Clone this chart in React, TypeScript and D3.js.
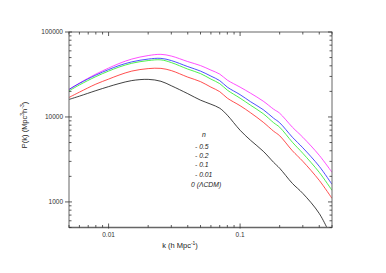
import React, { useEffect, useRef } from 'react';
import * as d3 from 'd3';

// wavenumbers k (h/Mpc) shared by every curve
const kValues = [
  0.005, 0.006, 0.008, 0.01, 0.012, 0.015, 0.02, 0.025, 0.03, 0.04, 0.05, 0.06,
  0.07, 0.08, 0.1, 0.12, 0.15, 0.18, 0.2, 0.25, 0.3, 0.4, 0.5,
];

// P(k) for each model
const pMinus05 = [
  21080, 25010, 31950, 37610, 42500, 48010, 52810, 54570, 52100, 44860, 40240, 35610,
  31950, 27140, 22440, 19060, 15340, 12340, 11070, 7570, 5770, 3538, 2229,
];
const pMinus02 = [
  21080, 24810, 31090, 36100, 40240, 44500, 48010, 48940, 46100, 39160, 34660, 30260,
  26770, 22440, 18300, 15130, 12180, 9660, 8550, 5770, 4337, 2624, 1609,
];
const pMinus01 = [
  20290, 23820, 29850, 34660, 38640, 42840, 46100, 46990, 43660, 36590, 32380, 27890,
  24680, 20680, 16640, 13760, 10920, 8550, 7570, 5036, 3735, 2229, 1367,
];
const pMinus001 = [
  16960, 19590, 24340, 27890, 31090, 34660, 37090, 37300, 35130, 29440, 26050, 22440,
  19860, 16640, 13570, 11220, 8670, 6790, 6010, 3998, 3005, 1794, 1100,
];
const pLCDM = [
  16070, 17580, 20400, 22750, 24700, 26800, 27700, 26300, 23300, 18800, 15770, 14130,
  12680, 10490, 6980, 5320, 3950, 2920, 2490, 1650, 1260, 731, 371,
];

const seriesColors = ['#ff22ff', '#2222ff', '#22ee22', '#ff2222', '#111111'];
const legendLabels = ['n', '- 0.5', '- 0.2', '- 0.1', '- 0.01', '0 (ΛCDM)'];

const xMajor = [0.01, 0.1];
const xMinor = [0.005, 0.006, 0.007, 0.008, 0.009, 0.02, 0.03, 0.04, 0.05, 0.06, 0.07, 0.08, 0.09, 0.2, 0.3, 0.4, 0.5];
const yMajor = [1000, 10000, 100000];
const yMinor = [
  500, 600, 700, 800, 900, 2000, 3000, 4000, 5000, 6000, 7000, 8000, 9000,
  20000, 30000, 40000, 50000, 60000, 70000, 80000, 90000,
];

const App: React.FC = () => {
  const ref = useRef(null);

  useEffect(() => {
    if (!ref.current) return;
    const svg = d3.select(ref.current);
    svg.selectAll('*').remove();

    const left = 69;
    const right = 332;
    const top = 32;
    const bottom = 227.5;

    const x = d3.scaleLog().domain([0.005, 0.5]).range([left, right]);
    const y = d3.scaleLog().domain([500, 100000]).range([bottom, top]);

    svg.append('rect').attr('width', 386).attr('height', 273).attr('fill', '#fff');

    svg
      .append('defs')
      .append('clipPath')
      .attr('id', 'plot-clip')
      .append('rect')
      .attr('x', left)
      .attr('y', top)
      .attr('width', right - left)
      .attr('height', bottom - top);

    const line = d3
      .line<number>()
      .x((_, i) => x(kValues[i]))
      .y((d) => y(d))
      .curve(d3.curveCatmullRom.alpha(0.5));

    const allSeries = [pMinus05, pMinus02, pMinus01, pMinus001, pLCDM];
    svg
      .append('g')
      .attr('clip-path', 'url(#plot-clip)')
      .selectAll('path')
      .data(allSeries)
      .enter()
      .append('path')
      .attr('d', (d) => line(d))
      .attr('fill', 'none')
      .attr('stroke', (_, i) => seriesColors[i])
      .attr('stroke-width', 0.8);

    // frame
    const axisColor = '#666';
    svg
      .append('rect')
      .attr('x', left)
      .attr('y', top)
      .attr('width', right - left)
      .attr('height', bottom - top)
      .attr('fill', 'none')
      .attr('stroke', axisColor)
      .attr('stroke-width', 1);
    svg
      .append('line')
      .attr('x1', left)
      .attr('x2', right)
      .attr('y1', bottom)
      .attr('y2', bottom)
      .attr('stroke', axisColor)
      .attr('stroke-width', 1.6);

    const ticks = svg.append('g').attr('stroke', '#333').attr('stroke-width', 0.8);
    // x ticks bottom & top (inward)
    xMinor.forEach((v) => {
      ticks.append('line').attr('x1', x(v)).attr('x2', x(v)).attr('y1', bottom).attr('y2', bottom - 2.5);
      ticks.append('line').attr('x1', x(v)).attr('x2', x(v)).attr('y1', top).attr('y2', top + 2.5);
    });
    xMajor.forEach((v) => {
      ticks.append('line').attr('x1', x(v)).attr('x2', x(v)).attr('y1', bottom + 1).attr('y2', bottom - 4);
      ticks.append('line').attr('x1', x(v)).attr('x2', x(v)).attr('y1', top).attr('y2', top + 4);
    });
    // y ticks left & right
    yMinor.forEach((v) => {
      ticks.append('line').attr('x1', left).attr('x2', left + 2.5).attr('y1', y(v)).attr('y2', y(v));
      ticks.append('line').attr('x1', right).attr('x2', right - 2.5).attr('y1', y(v)).attr('y2', y(v));
    });
    yMajor.forEach((v) => {
      ticks.append('line').attr('x1', left - 4).attr('x2', left + 3).attr('y1', y(v)).attr('y2', y(v));
      ticks.append('line').attr('x1', right).attr('x2', right - 4).attr('y1', y(v)).attr('y2', y(v));
    });

    const font = 'Liberation Sans, Arial, sans-serif';

    svg
      .append('g')
      .selectAll('text')
      .data(xMajor)
      .enter()
      .append('text')
      .attr('x', (d) => x(d))
      .attr('y', bottom + 9.5)
      .attr('text-anchor', 'middle')
      .attr('font-family', font)
      .attr('font-size', 6.5)
      .attr('fill', '#333')
      .text((d) => String(d));

    svg
      .append('g')
      .selectAll('text')
      .data(yMajor)
      .enter()
      .append('text')
      .attr('x', left - 6)
      .attr('y', (d) => y(d))
      .attr('dy', '0.35em')
      .attr('text-anchor', 'end')
      .attr('font-family', font)
      .attr('font-size', 6.5)
      .attr('fill', '#333')
      .text((d) => String(d));

    // axis titles
    const xTitle = svg
      .append('text')
      .attr('x', 180)
      .attr('y', 248)
      .attr('text-anchor', 'middle')
      .attr('font-family', font)
      .attr('font-size', 7.5)
      .attr('fill', '#222');
    xTitle.append('tspan').text('k (h Mpc');
    xTitle.append('tspan').attr('dy', -3).attr('font-size', 5).text('-1');
    xTitle.append('tspan').attr('dy', 3).text(')');

    const yTitle = svg
      .append('text')
      .attr('transform', 'translate(27,125) rotate(-90)')
      .attr('text-anchor', 'middle')
      .attr('font-family', font)
      .attr('font-size', 7.5)
      .attr('fill', '#222');
    yTitle.append('tspan').text('P(k) (Mpc');
    yTitle.append('tspan').attr('dy', -3).attr('font-size', 5).text('3');
    yTitle.append('tspan').attr('dy', 3).text('h');
    yTitle.append('tspan').attr('dy', -3).attr('font-size', 5).text('-3');
    yTitle.append('tspan').attr('dy', 3).text(')');

    // legend text
    const legendX = [202, 195, 195, 195, 195, 191];
    const legendY = [135, 147, 156, 165, 174.5, 185];
    svg
      .append('g')
      .selectAll('text')
      .data(legendLabels)
      .enter()
      .append('text')
      .attr('x', (_, i) => legendX[i])
      .attr('y', (_, i) => legendY[i])
      .attr('dy', '0.35em')
      .attr('font-family', font)
      .attr('font-style', 'italic')
      .attr('font-size', 6.8)
      .attr('fill', '#222')
      .text((d) => d);

    return () => {
      svg.selectAll('*').remove();
    };
  }, []);

  return (
    <svg
      ref={ref}
      width={386}
      height={273}
      style={{ position: 'absolute', left: 0, top: 0 }}
    ></svg>
  );
};

export default App;
